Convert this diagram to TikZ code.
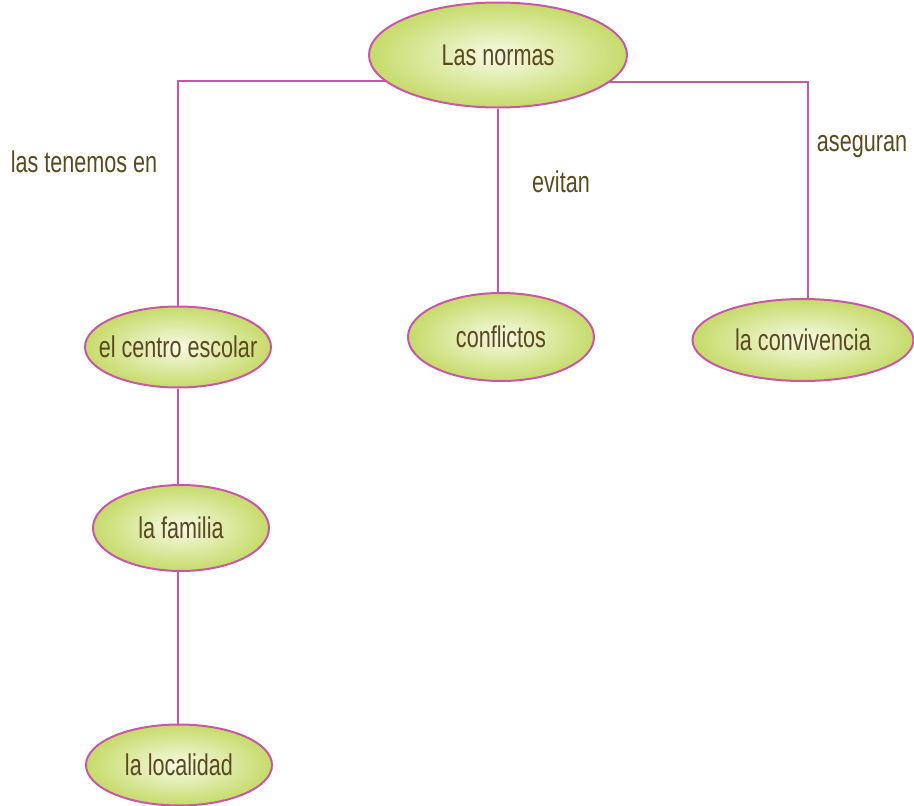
\documentclass[tikz,border=0pt]{standalone}
\usepackage{fontspec}
\setmainfont{Liberation Sans}[FakeStretch=0.72]
\usetikzlibrary{shapes.geometric}
\definecolor{lineC}{HTML}{C957A8}
\definecolor{txtC}{HTML}{5A4A1E}
\definecolor{fillOut}{HTML}{C6DB6A}
\definecolor{fillIn}{HTML}{F7FAE6}
\pgfdeclarelayer{bg}
\pgfsetlayers{bg,main}
\tikzset{
  concept/.style={ellipse, draw=lineC, line width=2pt, shading=radial,
    inner color=fillIn, outer color=fillOut, inner ysep=0pt, inner xsep=-20pt,
    text=txtC, font=\fontsize{30}{32}\selectfont},
  lbl/.style={text=txtC, font=\fontsize{30}{32}\selectfont, inner sep=0pt},
  conn/.style={draw=lineC, line width=2pt}
}
\begin{document}
\begin{tikzpicture}[x=1pt,y=-1pt]
\useasboundingbox (0,0) rectangle (914,806);
\coordinate (jl) at (178,81);
\coordinate (jr) at (808,82);
\node[concept, minimum width=258pt, minimum height=105pt] (norm) at (498,55) {Las normas};
\node[concept, minimum width=186pt, minimum height=81pt] (centro) at (178,347) {el centro escolar};
\node[concept, minimum width=186pt, minimum height=88pt] (conf) at (501,337) {conflictos};
\node[concept, minimum width=221pt, minimum height=82pt] (conv) at (803,340) {la convivencia};
\node[concept, minimum width=176pt, minimum height=86pt] (fam) at (181,528) {la familia};
\node[concept, minimum width=186pt, minimum height=81pt] (loc) at (179,765) {la localidad};
\begin{pgfonlayer}{bg}
\draw[conn] (norm.center |- jl) -- (jl) -- (centro.north -| jl);
\draw[conn] (norm.center |- jr) -- (jr) -- (conv.north -| jr);
\draw[conn] (norm.south) -- (norm.south |- conf.north);
\draw[conn] (centro.south) -- (fam.north -| centro.south);
\draw[conn] (fam.south -| centro.south) -- (loc.north -| centro.south);
\end{pgfonlayer}
\node[lbl] (l1) at (84,162) {las tenemos en};
\node[lbl] (l2) at (561,182) {evitan};
\node[lbl] (l3) at (862,147) {aseguran};
\end{tikzpicture}
\end{document}
